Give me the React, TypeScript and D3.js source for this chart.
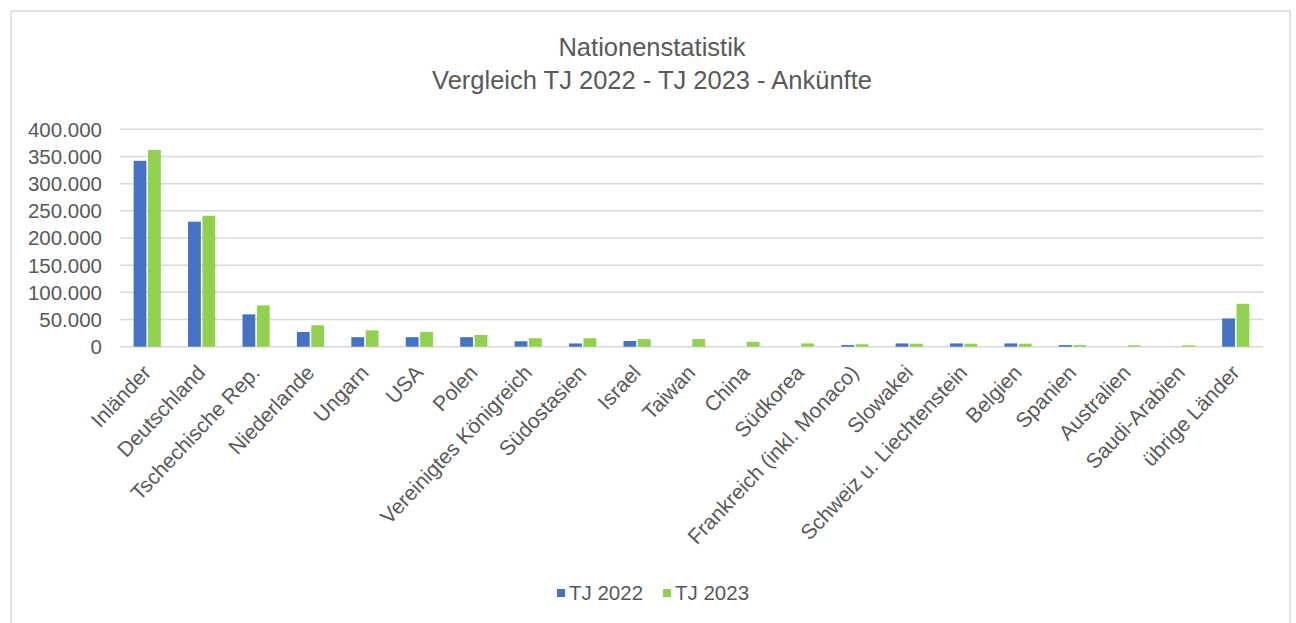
import React, { useMemo } from "react";
import * as d3 from "d3";

const categories = [
  "Inländer",
  "Deutschland",
  "Tschechische Rep.",
  "Niederlande",
  "Ungarn",
  "USA",
  "Polen",
  "Vereinigtes Königreich",
  "Südostasien",
  "Israel",
  "Taiwan",
  "China",
  "Südkorea",
  "Frankreich (inkl. Monaco)",
  "Slowakei",
  "Schweiz u. Liechtenstein",
  "Belgien",
  "Spanien",
  "Australien",
  "Saudi-Arabien",
  "übrige Länder",
];

const tj2022 = [
  342000, 230000, 59500, 27000, 17500, 17500, 17500, 10000, 6000, 10500, 0, 0, 0, 3000,
  6000, 6000, 6000, 3000, 0, 0, 52000,
];

const tj2023 = [
  362000, 241000, 76000, 39500, 30000, 27000, 21500, 15500, 15500, 14000, 14000, 9000,
  6000, 4500, 5500, 5500, 5500, 3000, 2500, 2500, 79000,
];

const seriesNames = ["TJ 2022", "TJ 2023"];
const seriesColors = ["#4472C4", "#92D050"];
const yTicks = [0, 50000, 100000, 150000, 200000, 250000, 300000, 350000, 400000];

const W = 1296;
const H = 623;
const FONT = "'Liberation Sans', Arial, sans-serif";
const TEXT = "#595959";
const GRID = "#D9D9D9";

const de = d3.formatLocale({ decimal: ",", thousands: ".", grouping: [3], currency: ["", " €"] });
const fmt = de.format(",d");

export default function App() {
  const plot = { left: 120, right: 1263, top: 129.3, bottom: 346.7 };

  const x = useMemo(
    () => d3.scaleBand<string>().domain(categories).range([plot.left, plot.right]).padding(0),
    []
  );
  const y = useMemo(() => d3.scaleLinear().domain([0, 400000]).range([plot.bottom, plot.top]), []);

  const barW = 12.8;
  const innerGap = 1.6;
  const series = [tj2022, tj2023];

  return (
    <svg
      width={W}
      height={H}
      style={{ position: "absolute", left: 0, top: 0, background: "#fff" }}
      fontFamily={FONT}
    >
      <rect x={11} y={11} width={1279} height={620} fill="#fff" stroke={GRID} strokeWidth={1.5} />

      <text x={652} y={56} textAnchor="middle" fontSize={25.5} fill={TEXT}>
        Nationenstatistik
      </text>
      <text x={652} y={89} textAnchor="middle" fontSize={25.5} fill={TEXT}>
        Vergleich TJ 2022 - TJ 2023 - Ankünfte
      </text>

      {yTicks.map((t) => (
        <g key={t}>
          <line x1={plot.left} x2={plot.right} y1={y(t)} y2={y(t)} stroke={GRID} strokeWidth={1.5} />
          <text x={102} y={y(t)} dy="0.36em" textAnchor="end" fontSize={20.5} fill={TEXT}>
            {fmt(t)}
          </text>
        </g>
      ))}

      {categories.map((c, i) => {
        const cx = (x(c) as number) + x.bandwidth() / 2;
        return (
          <g key={c}>
            {series.map((s, k) => {
              const bx = k === 0 ? cx - innerGap / 2 - barW : cx + innerGap / 2;
              const v = s[i];
              if (!v) return null;
              return (
                <rect
                  key={k}
                  x={bx}
                  y={y(v)}
                  width={barW}
                  height={y(0) - y(v)}
                  fill={seriesColors[k]}
                />
              );
            })}
            <text
              transform={`translate(${cx + 5},${plot.bottom + 27}) rotate(-46.5)`}
              textAnchor="end"
              fontSize={21}
              fill={TEXT}
            >
              {c}
            </text>
          </g>
        );
      })}

      {seriesNames.map((n, k) => {
        const lx = [557, 663][k];
        return (
          <g key={n}>
            <rect x={lx} y={589} width={8} height={8} fill={seriesColors[k]} />
            <text x={lx + 12} y={593} dy="0.36em" fontSize={20.5} fill={TEXT}>
              {n}
            </text>
          </g>
        );
      })}
    </svg>
  );
}
